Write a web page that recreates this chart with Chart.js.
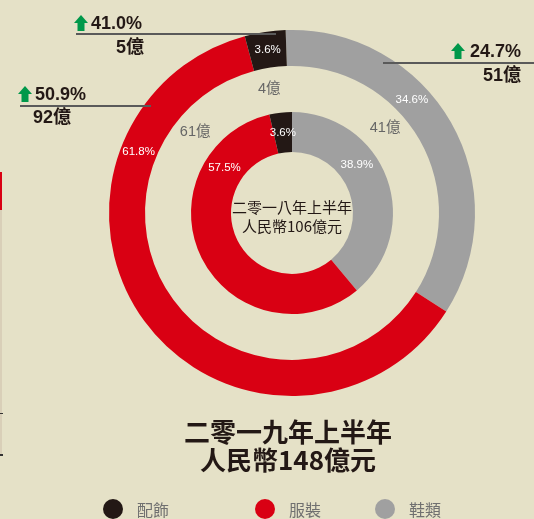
<!DOCTYPE html>
<html>
<head>
<meta charset="utf-8">
<script src="https://cdn.jsdelivr.net/npm/chart.js"></script>
<style>
  html, body { margin: 0; padding: 0; background: #e5e1c7; }
  #wrap { position: relative; width: 534px; height: 519px; }
</style>
</head>
<body>
<div id="wrap"><canvas id="chart" width="534" height="519"></canvas></div>
<script>
// 資料
const categories = ['鞋類', '服裝', '配飾'];
const share2019 = [34.6, 61.8, 3.6];   // 外圈 %
const share2018 = [38.9, 57.5, 3.6];   // 內圈 %
const amount2019 = [51, 92, 5];        // 億
const amount2018 = [41, 61, 4];        // 億
const growth2019 = [24.7, 50.9, 41.0]; // 按年增長 %
const total2019 = 148;
const total2018 = 106;

const colors = ['#a0a0a0', '#d90013', '#231815'];
const latin = "'Liberation Sans', 'Noto Sans CJK TC', sans-serif";
const cjk = "'Noto Sans CJK TC', 'Liberation Sans', sans-serif";

// 標籤在每段弧內的位置 (0~1)
const fracOuter = [0.39, 0.76, 0.5];
const fracInner = [0.38, 0.79, 0.5];
const fracGap = [0.34, 0.82, 0.2];

function arcPoint(arc, frac, r) {
    const a = arc.startAngle + (arc.endAngle - arc.startAngle) * frac;
    return [arc.x + Math.cos(a) * r, arc.y + Math.sin(a) * r];
}

function upArrow(ctx, x, y, w, h) {
    ctx.fillStyle = '#00984a';
    ctx.beginPath();
    ctx.moveTo(x + w / 2, y);
    ctx.lineTo(x + w, y + h * 0.5);
    ctx.lineTo(x + w * 0.75, y + h * 0.5);
    ctx.lineTo(x + w * 0.75, y + h);
    ctx.lineTo(x + w * 0.25, y + h);
    ctx.lineTo(x + w * 0.25, y + h * 0.5);
    ctx.lineTo(x, y + h * 0.5);
    ctx.closePath();
    ctx.fill();
}

const labelPlugin = {
    id: 'labels',
    afterDraw(chart) {
        const ctx = chart.ctx;
        const outer = chart.getDatasetMeta(0).data;
        const gap = chart.getDatasetMeta(1).data[0];
        const inner = chart.getDatasetMeta(2).data;
        ctx.save();
        ctx.textAlign = 'center';
        ctx.textBaseline = 'middle';

        // 圈內百分比
        ctx.fillStyle = '#ffffff';
        ctx.font = '11.5px ' + latin;
        outer.forEach((arc, i) => {
            const p = arcPoint(arc, fracOuter[i], (arc.innerRadius + arc.outerRadius) / 2);
            ctx.fillText(share2019[i].toFixed(1) + '%', p[0], p[1]);
        });
        inner.forEach((arc, i) => {
            const p = arcPoint(arc, fracInner[i], (arc.innerRadius + arc.outerRadius) / 2);
            ctx.fillText(share2018[i].toFixed(1) + '%', p[0], p[1]);
        });

        // 2018 金額 (兩圈之間)
        ctx.fillStyle = '#666666';
        ctx.font = '14.5px ' + latin;
        const gr = (gap.innerRadius + gap.outerRadius) / 2 + 2;
        inner.forEach((arc, i) => {
            const p = arcPoint(arc, fracGap[i], gr);
            ctx.fillText(amount2018[i] + '億', p[0], p[1]);
        });

        // 中心文字
        const cx = inner[0].x;
        ctx.fillStyle = '#231815';
        ctx.font = '15px ' + cjk;
        ctx.fillText('二零一八年上半年', cx, 207);
        ctx.fillText('人民幣' + total2018 + '億元', cx, 226);

        // 標題
        ctx.font = 'bold 26px ' + cjk;
        ctx.fillText('二零一九年上半年', 288, 432);
        ctx.fillText('人民幣' + total2019 + '億元', 288, 460);

        // 2019 標註線
        ctx.strokeStyle = '#5a5a5a';
        ctx.lineWidth = 2;
        [[76, 276, 34], [20, 151, 106], [383, 534, 63]].forEach(l => {
            ctx.beginPath();
            ctx.moveTo(l[0], l[2]);
            ctx.lineTo(l[1], l[2]);
            ctx.stroke();
        });
        upArrow(ctx, 74, 15, 14, 16);
        upArrow(ctx, 18, 86, 14, 16);
        upArrow(ctx, 451, 43, 14, 16);
        ctx.fillStyle = '#231815';
        ctx.font = 'bold 18px ' + latin;
        ctx.textAlign = 'left';
        ctx.fillText(growth2019[2].toFixed(1) + '%', 91, 24);
        ctx.fillText(growth2019[1].toFixed(1) + '%', 35, 95);
        ctx.fillText(amount2019[1] + '億', 33, 118);
        ctx.textAlign = 'right';
        ctx.fillText(amount2019[2] + '億', 144, 48);
        ctx.fillText(growth2019[0].toFixed(1) + '%', 521, 52);
        ctx.fillText(amount2019[0] + '億', 521, 76);

        // 圖例
        const legendX = [113, 265, 385];
        [2, 1, 0].forEach((k, j) => {
            ctx.fillStyle = colors[k];
            ctx.beginPath();
            ctx.arc(legendX[j], 509, 10, 0, Math.PI * 2);
            ctx.fill();
            ctx.fillStyle = '#707070';
            ctx.font = '16px ' + cjk;
            ctx.textAlign = 'left';
            ctx.fillText(categories[k], legendX[j] + 24, 510);
        });

        // 左邊頁緣
        ctx.fillStyle = '#d9cfb8';
        ctx.fillRect(0, 210, 2, 245);
        ctx.fillStyle = '#d90013';
        ctx.fillRect(0, 172, 2, 38);
        ctx.fillStyle = '#333333';
        ctx.fillRect(0, 413, 3, 1);
        ctx.fillRect(0, 454, 3, 2);
        ctx.restore();
    }
};

new Chart(document.getElementById('chart'), {
    type: 'doughnut',
    data: {
        labels: categories,
        datasets: [
            { data: share2019, backgroundColor: colors, borderWidth: 0, weight: 36, rotation: -2 },
            { data: [1], backgroundColor: 'rgba(0,0,0,0)', borderWidth: 0, weight: 46 },
            { data: share2018, backgroundColor: colors, borderWidth: 0, weight: 40 }
        ]
    },
    options: {
        responsive: false,
        animation: false,
        cutout: 61,
        layout: { padding: { top: 30, bottom: 123, left: 109, right: 59 } },
        plugins: {
            legend: { display: false },
            tooltip: { enabled: false }
        }
    },
    plugins: [labelPlugin]
});
</script>
</body>
</html>
